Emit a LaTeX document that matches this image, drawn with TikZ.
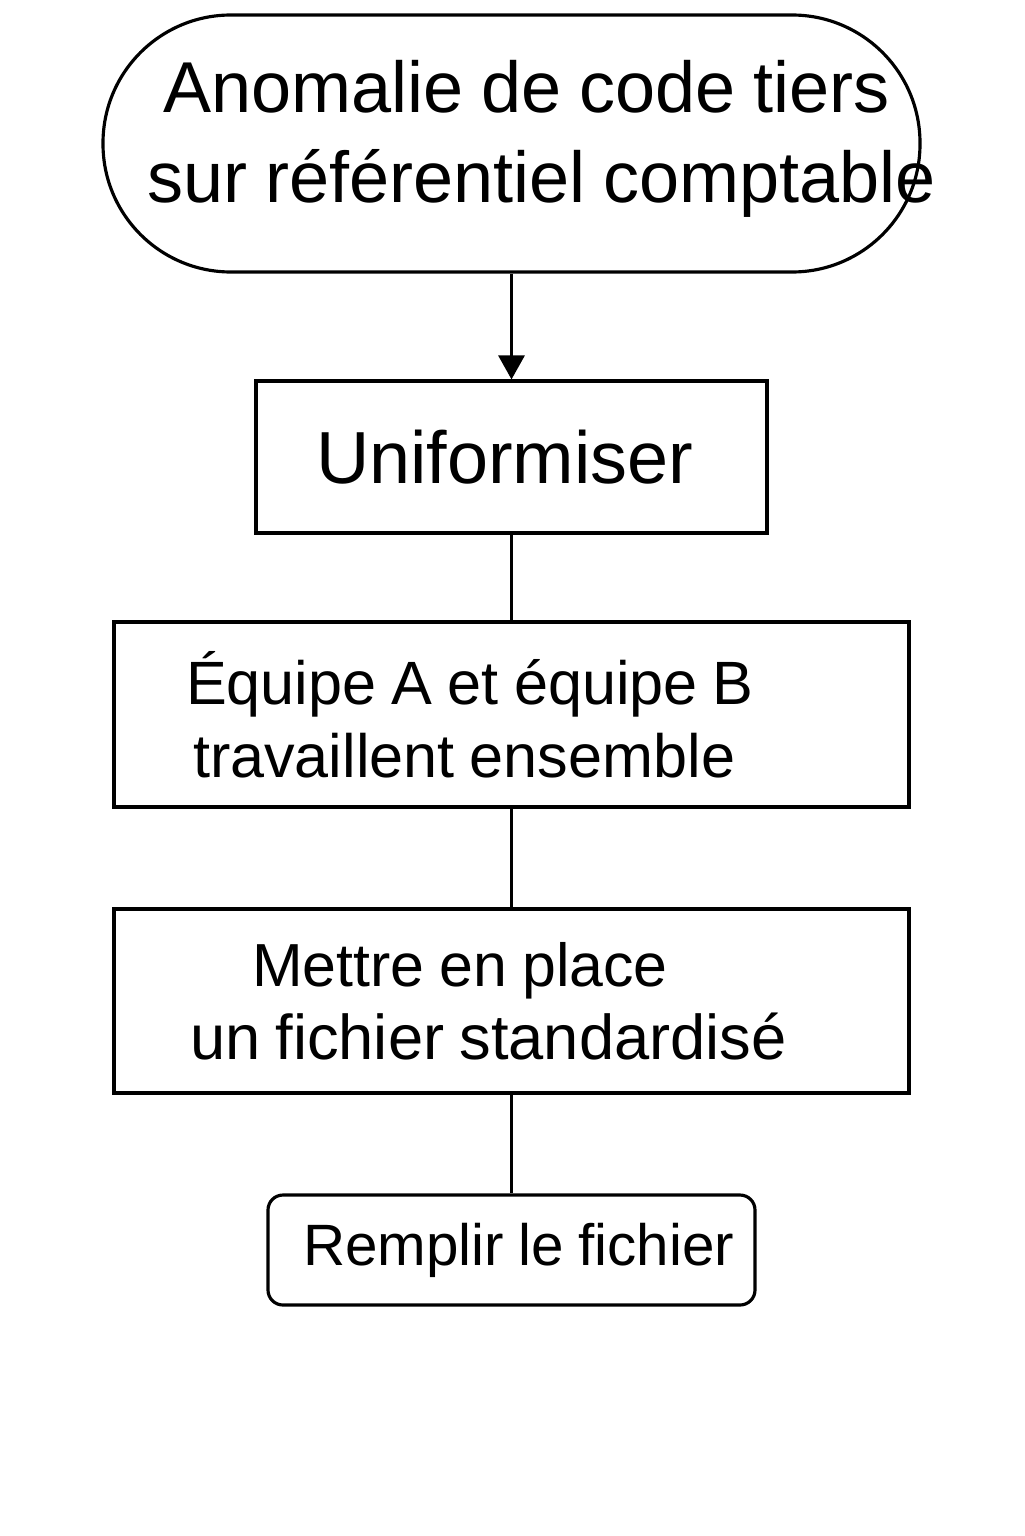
\documentclass[tikz,border=0pt]{standalone}
\usepackage{fontspec}
\setmainfont{Liberation Sans}
\usetikzlibrary{arrows.meta}
\newcommand\tightsp{\spaceskip=0.9\fontdimen2\font plus 0.5\fontdimen3\font minus \fontdimen4\font}
\tikzstyle{stepbox}=[draw, rectangle, line width=0.9pt, align=left, inner ysep=0pt,
  execute at begin node=\tightsp]
\tikzstyle{link}=[line width=0.9pt]
\tikzstyle{flow}=[link, -{Triangle[width=2.6mm,length=2.4mm]}]

\begin{document}
\begin{tikzpicture}
  \useasboundingbox (0,0) rectangle (10.24,-15.36);
  % Steps, top to bottom
  \node[stepbox, rounded corners=12.8mm, minimum height=25.7mm, inner xsep=4.4mm,
    text width=72.9mm, text depth=11.5mm, font=\fontsize{20.5}{25.6}\selectfont]
    (start) at (5.115,-1.435)
    {\mbox{\hspace*{1.6mm}Anomalie de code tiers}\\\mbox{sur référentiel comptable}};
  \node[stepbox, minimum height=15.2mm, inner xsep=6mm, text width=39.1mm,
    font=\fontsize{21}{25}\selectfont] (unif) at (5.115,-4.57) {Uniformiser};
  \node[stepbox, minimum height=18.5mm, inner xsep=7.2mm, text width=65.1mm,
    font=\fontsize{17.4}{20.8}\selectfont] (team) at (5.115,-7.145)
    {Équipe A et équipe B\\\hspace*{0.7mm}travaillent ensemble};
  \node[stepbox, minimum height=18.4mm, inner xsep=7.6mm, text width=64.3mm,
    font=\fontsize{17.3}{20.8}\selectfont] (std) at (5.115,-10.01)
    {\hspace*{6.2mm}Mettre en place\\{\fontsize{18}{20.8}\selectfont un fichier standardisé}};
  \node[stepbox, rounded corners=1.5mm, minimum height=11mm, inner xsep=3.5mm,
    text width=41.7mm, font=\fontsize{16.6}{20}\selectfont] (fill) at (5.115,-12.5)
    {\mbox{Remplir le fichier}};
  % Connectors
  \draw[flow] (start) -- (unif);
  \draw[link] (unif) -- (team);
  \draw[link] (team) -- (std);
  \draw[link] (std) -- (fill);
\end{tikzpicture}
\end{document}
